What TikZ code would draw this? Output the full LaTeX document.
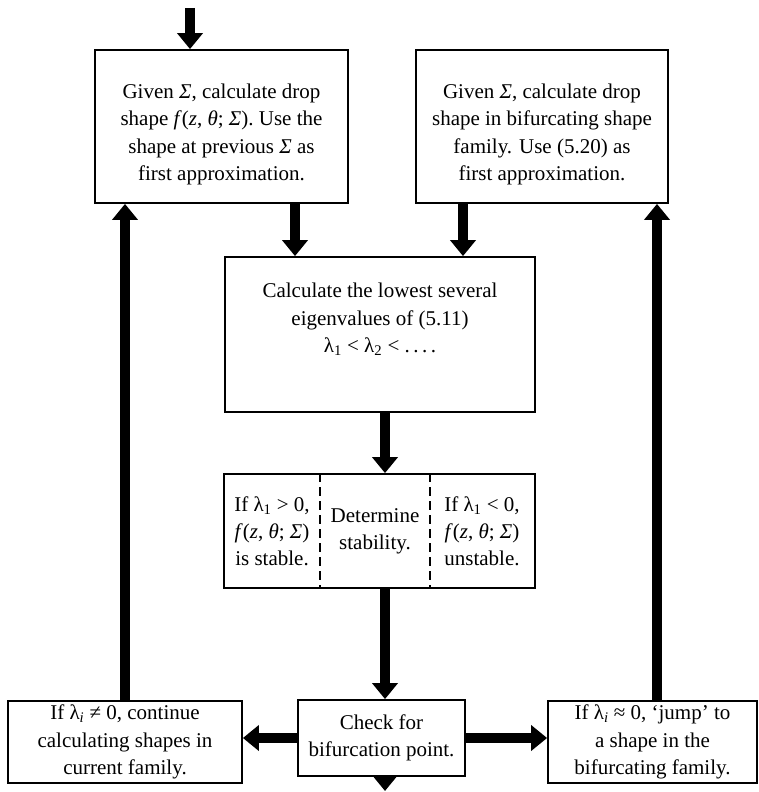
\documentclass[tikz,border=0pt]{standalone}
\usepackage{fontspec}
\setmainfont{Liberation Serif}
\usetikzlibrary{arrows.meta,calc}
\newcommand{\lsub}[1]{\textsubscript{#1}}
\newcommand{\fzt}{\textit{f}(\textit{z}, \textit{θ}; \textit{Σ})}
\newcommand{\topstrut}{\rule{0pt}{30pt}}
\tikzset{
  box/.style={draw, line width=1.8pt, align=center, inner sep=0pt,
              font=\fontsize{21}{27.5}\selectfont},
  txt/.style={align=center, inner sep=0pt, font=\fontsize{21}{27}\selectfont},
  flow/.style={line width=9.5pt, -{Triangle[width=25pt,length=16pt]}},
  divider/.style={line width=2.4pt, dash pattern=on 9pt off 5pt},
}
\begin{document}
\begin{tikzpicture}[x=1pt,y=-1pt]
\useasboundingbox (0,0) rectangle (758,792);
% boxes
\node[box, minimum width=253pt, minimum height=153pt] (tl) at (221.5,126.5)
  {\topstrut Given \textit{Σ}, calculate drop\\ shape \fzt. Use the\\ shape at previous \textit{Σ} as\\ first approximation.};
\node[box, minimum width=252pt, minimum height=153pt] (tr) at (542,126.5)
  {\topstrut Given \textit{Σ}, calculate drop\\ shape in bifurcating shape\\ family. Use (5.20) as\\ first approximation.};
\node[box, minimum width=310pt, minimum height=155pt] (mid) at (380,334.5)
  {Calculate the lowest several\\ eigenvalues of (5.11)\\ λ\lsub{1} < λ\lsub{2} < .\,.\,.\,.\\[6pt]};
\node[box, minimum width=311pt, minimum height=114pt] (stab) at (379.5,531) {};
\node[txt] (sl) at (272,531) {If λ\lsub{1} > 0,\\ \fzt\\ is stable.};
\node[txt] (sm) at (375,531) {Determine\\ stability.};
\node[txt] (sr) at (482,531) {If λ\lsub{1} < 0,\\ \fzt\\ unstable.};
\coordinate (d1) at (320,0);
\coordinate (d2) at (430,0);
\draw[divider] (d1 |- stab.north) -- (d1 |- stab.south);
\draw[divider] (d2 |- stab.north) -- (d2 |- stab.south);
\node[box, minimum width=234pt, minimum height=82pt] (bl) at (125,742)
  {If λ\lsub{\textit{i}} ≠ 0, continue\\ calculating shapes in\\ current family.};
\node[box, minimum width=167pt, minimum height=76pt] (bc) at (381.5,738)
  {Check for\\ bifurcation point.};
\node[box, minimum width=209pt, minimum height=82pt] (br) at (652.5,742)
  {If λ\lsub{\textit{i}} ≈ 0, ‘jump’ to\\ a shape in the\\ bifurcating family.};
% connectors
\coordinate (in) at (190,8);
\coordinate (out) at (385,791);
\coordinate (a1) at (295,0);
\coordinate (a2) at (463,0);
\coordinate (a3) at (385,0);
\coordinate (a4) at (125,0);
\coordinate (a5) at (657,0);
\draw[flow] (in) -- (in |- tl.north);
\draw[flow] (a1 |- tl.south) -- (a1 |- mid.north);
\draw[flow] (a2 |- tr.south) -- (a2 |- mid.north);
\draw[flow] (a3 |- mid.south) -- (a3 |- stab.north);
\draw[flow] (a3 |- stab.south) -- (a3 |- bc.north);
\draw[flow] (bc.west) -- (bc.west -| bl.east);
\draw[flow] (bc.east) -- (bc.east -| br.west);
\draw[flow] (a3 |- bc.south) -- (out);
\draw[flow] (a4 |- bl.north) -- (a4 |- tl.south);
\draw[flow] (a5 |- br.north) -- (a5 |- tr.south);
\end{tikzpicture}
\end{document}
